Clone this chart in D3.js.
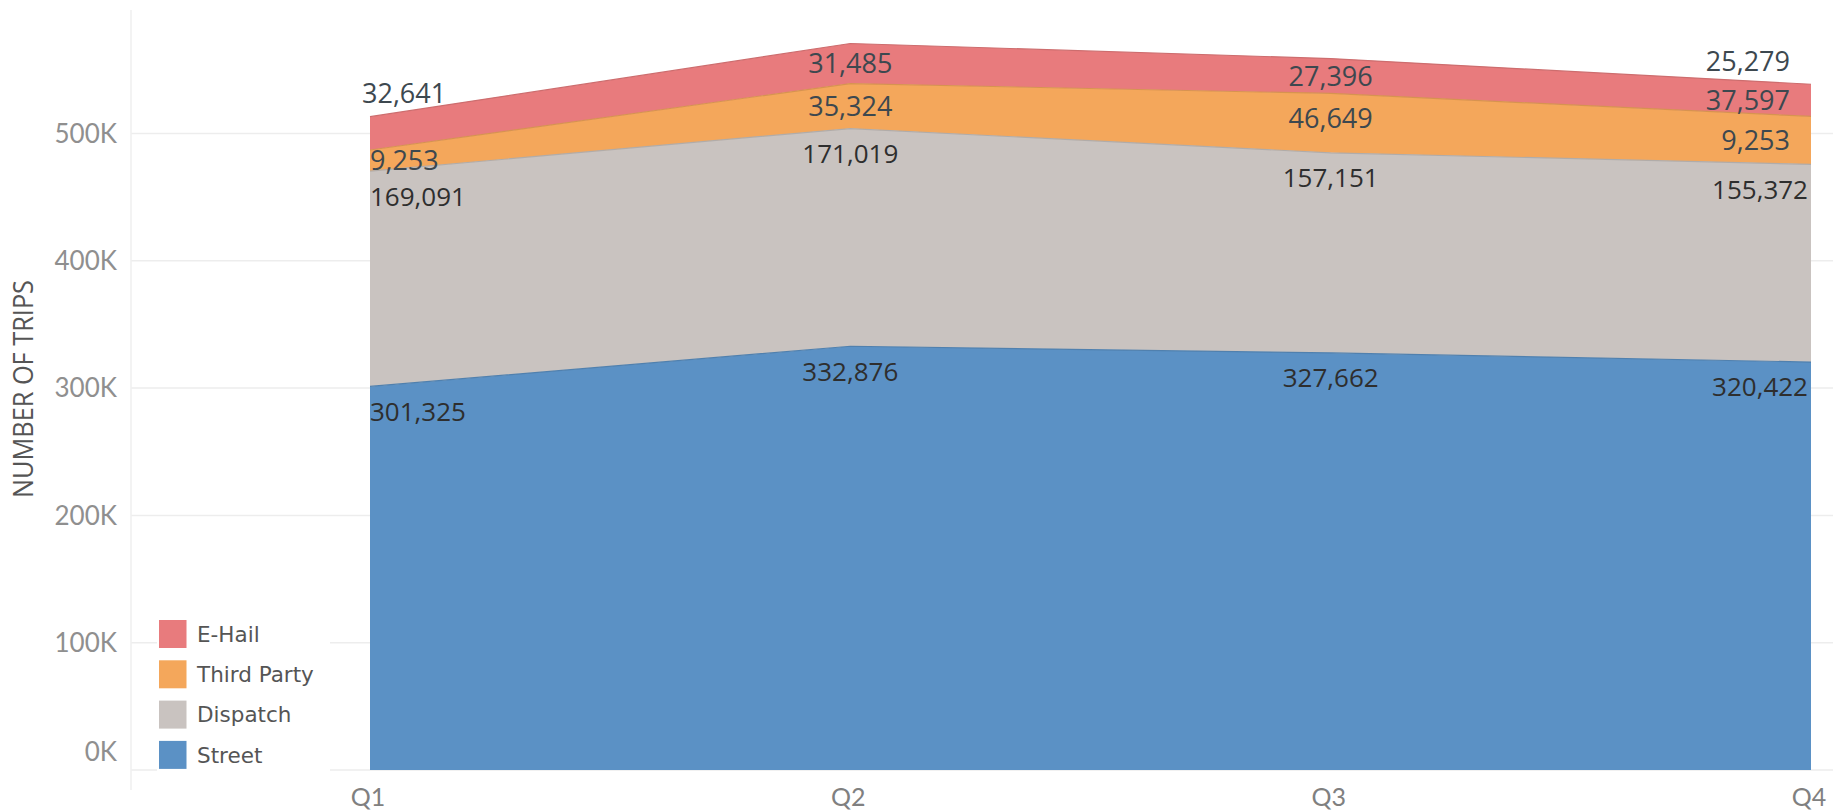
<!DOCTYPE html>
<html>
<head>
<meta charset="utf-8">
<script src="https://cdn.jsdelivr.net/npm/d3@7"></script>
<style>
    body { margin: 0; background: #fff; }
    svg { display: block; }
</style>
</head>
<body>
<script>
// stacked area - trips by dispatch type per quarter

const quarters = ["Q1", "Q2", "Q3", "Q4"];
const seriesNames = ["Street", "Dispatch", "Third Party", "E-Hail"];

const street = [301325, 332876, 327662, 320422];
const dispatch = [169091, 171019, 157151, 155372];
const thirdParty = [16600, 35324, 46649, 37597];
const eHail = [26200, 31485, 27396, 25279];

const yTicks = [0, 100000, 200000, 300000, 400000, 500000];

// label text as printed on the chart (slot above the stack, then one per band)
const aboveLabels = ["32,641", "", "", "25,279"];
const eHailLabels = ["", "31,485", "27,396", "37,597"];
const thirdPartyLabels = ["9,253", "35,324", "46,649", "9,253"];

const colors = {
    "Street": "#5b91c5",
    "Dispatch": "#c9c3c0",
    "Third Party": "#f4a75b",
    "E-Hail": "#e87b7d"
};
const legendOrder = ["E-Hail", "Third Party", "Dispatch", "Street"];

function main() {
    let W = 1833, H = 810;

    let svg = d3.select("body").append("svg")
        .attr("width", W)
        .attr("height", H);

    let x = d3.scalePoint().domain(quarters).range([370, 1811]);
    let y = d3.scaleLinear().domain([0, 500000]).range([770, 133.5]);

    // build table for the stack
    let table = quarters.map(function (q, i) {
        return {
            quarter: q,
            "Street": street[i],
            "Dispatch": dispatch[i],
            "Third Party": thirdParty[i],
            "E-Hail": eHail[i]
        };
    });
    let stacked = d3.stack().keys(seriesNames)(table);

    // gridlines
    svg.append("g")
        .selectAll("line")
        .data(yTicks)
        .enter().append("line")
        .attr("x1", 131)
        .attr("x2", W)
        .attr("y1", d => y(d))
        .attr("y2", d => y(d))
        .attr("stroke", "#ededed")
        .attr("stroke-width", 1.5);

    // pane divider
    svg.append("line")
        .attr("x1", 131).attr("x2", 131)
        .attr("y1", 10).attr("y2", 790)
        .attr("stroke", "#efefef")
        .attr("stroke-width", 1.5);

    // areas
    let area = d3.area()
        .x(d => x(d.data.quarter))
        .y0(d => y(d[0]))
        .y1(d => y(d[1]));

    svg.append("g")
        .selectAll("path")
        .data(stacked)
        .enter().append("path")
        .attr("d", area)
        .attr("fill", d => colors[d.key]);

    // thin darker edge on top of each band
    let topLine = d3.line()
        .x(d => x(d.data.quarter))
        .y(d => y(d[1]));
    svg.append("g")
        .selectAll("path")
        .data(stacked)
        .enter().append("path")
        .attr("d", topLine)
        .attr("fill", "none")
        .attr("stroke", d => d3.color(colors[d.key]).darker(0.35))
        .attr("stroke-width", 1.2);

    // y axis labels
    let fmtK = d => (d / 1000) + "K";
    svg.append("g")
        .selectAll("text")
        .data(yTicks)
        .enter().append("text")
        .attr("x", 117)
        .attr("y", d => d === 0 ? y(d) - 18 : y(d))
        .attr("dy", "0.36em")
        .attr("text-anchor", "end")
        .style("font-family", "Lato, 'Open Sans', sans-serif")
        .style("font-size", "26px")
        .style("fill", "#8f8f8f")
        .text(fmtK);

    // y axis title
    svg.append("text")
        .attr("transform", "translate(33,389) rotate(-90)")
        .attr("text-anchor", "middle")
        .attr("textLength", 218)
        .attr("lengthAdjust", "spacingAndGlyphs")
        .style("font-family", "'Open Sans', sans-serif")
        .style("font-size", "27px")
        .style("fill", "#555")
        .text("NUMBER OF TRIPS");

    // x axis labels
    svg.append("g")
        .selectAll("text")
        .data(quarters)
        .enter().append("text")
        .attr("x", d => x(d) - 2)
        .attr("y", 806)
        .attr("text-anchor", "middle")
        .style("font-family", "Lato, 'Open Sans', sans-serif")
        .style("font-size", "25px")
        .style("fill", "#808080")
        .text(d => d);

    // data labels
    let fmt = d3.format(",");
    let bandIndex = { "Street": 0, "Dispatch": 1, "Third Party": 2, "E-Hail": 3 };
    let labels = [];
    quarters.forEach(function (q, i) {
        let slots = [
            { key: "Street", text: fmt(street[i]), dark: true },
            { key: "Dispatch", text: fmt(dispatch[i]), dark: true },
            { key: "Third Party", text: thirdPartyLabels[i], dark: false },
            { key: "E-Hail", text: eHailLabels[i], dark: false }
        ];
        slots.forEach(function (s) {
            if (!s.text) return;
            let seg = stacked[bandIndex[s.key]][i];
            let top = y(seg[1]), bottom = y(seg[0]);
            labels.push({
                qi: i, text: s.text, dark: s.dark,
                cy: Math.min(top + 25, (top + bottom) / 2)
            });
        });
        if (aboveLabels[i]) {
            let seg = stacked[3][i];
            labels.push({ qi: i, text: aboveLabels[i], dark: false, cy: y(seg[1]) - 23, above: true });
        }
    });

    svg.append("g")
        .selectAll("text")
        .data(labels)
        .enter().append("text")
        .attr("x", function (d) {
            let px = x(quarters[d.qi]);
            if (d.qi === 0) return d.above ? px - 8 : px;
            if (d.qi === 3) return d.dark ? px - 3 : px - 21;
            return px;
        })
        .attr("y", d => d.cy)
        .attr("dy", "0.36em")
        .attr("text-anchor", d => d.qi === 0 ? "start" : (d.qi === 3 ? "end" : "middle"))
        .style("font-family", "'Open Sans', sans-serif")
        .style("font-size", d => d.dark ? "26px" : "27px")
        .style("fill", d => d.dark ? "#2e2e2e" : "#3d484f")
        .text(d => d.text);

    // legend
    let legend = svg.append("g");
    legend.append("rect")
        .attr("x", 157).attr("y", 612)
        .attr("width", 173).attr("height", 164)
        .attr("fill", "#fff");

    let items = legend.selectAll("g.item")
        .data(legendOrder)
        .enter().append("g")
        .attr("class", "item")
        .attr("transform", (d, i) => "translate(159," + (620 + i * 40.3) + ")");

    items.append("rect")
        .attr("width", 27.5)
        .attr("height", 28)
        .attr("fill", d => colors[d]);

    items.append("text")
        .attr("x", 38)
        .attr("y", 14)
        .attr("dy", "0.36em")
        .style("font-family", "'DejaVu Sans', sans-serif")
        .style("font-size", "21.5px")
        .style("fill", "#555")
        .text(d => d);
}

main();
</script>
</body>
</html>
